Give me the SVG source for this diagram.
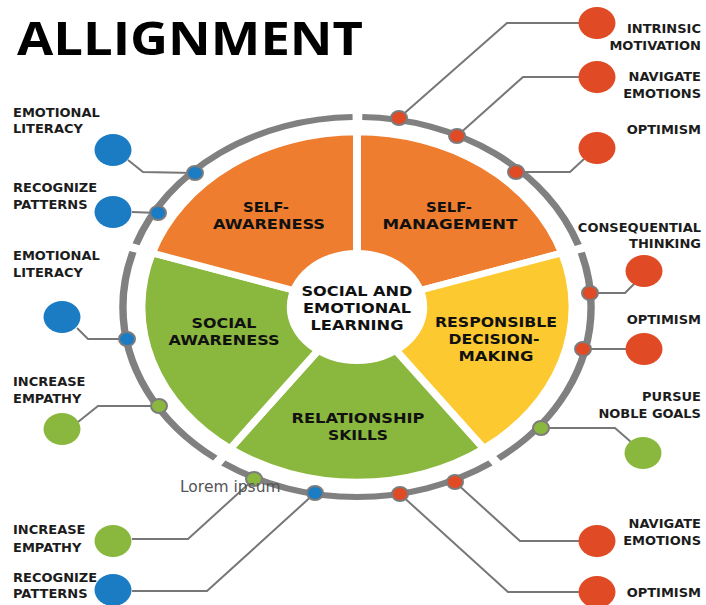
<svg xmlns="http://www.w3.org/2000/svg" width="706" height="605" viewBox="0 0 706 605">
<style>
.lbl{font-family:"DejaVu Sans","Liberation Sans",sans-serif;font-weight:bold;font-size:13px;fill:#1c1c1c}
.r{text-anchor:end}
.pie{font-family:"DejaVu Sans","Liberation Sans",sans-serif;font-weight:bold;font-size:14px;fill:#111;text-anchor:middle}
.con{fill:none;stroke:#777;stroke-width:2;stroke-linejoin:miter}
.sec{stroke:#fff;stroke-width:6.5;stroke-linejoin:miter}
.red{fill:#E04A24}
.grn{fill:#8AB83E}
.blu{fill:#1B7CC4}
.node{stroke:#7c7c7c;stroke-width:2}
</style>
<rect width="706" height="605" fill="#fff"/>
<text x="17" y="55" font-family="'Open Sans','DejaVu Sans',sans-serif" font-weight="bold" font-size="46" textLength="346" lengthAdjust="spacingAndGlyphs" fill="#000">ALLIGNMENT</text>

<g id="wheel" transform="translate(357,307) scale(1.232,1)">
  <circle r="190" fill="none" stroke="#808080" stroke-width="6" stroke-dasharray="230.76 8" stroke-dashoffset="55.69"/>
  <path id="sec-self-management" class="sec" fill="#EE7D30" d="M0 0 L0 -175 A175 175 0 0 1 166.43 -54.08 Z"/>
  <path id="sec-responsible" class="sec" fill="#FCCA30" d="M0 0 L166.43 -54.08 A175 175 0 0 1 102.86 141.58 Z"/>
  <path id="sec-relationship" class="sec" fill="#8AB83E" d="M0 0 L102.86 141.58 A175 175 0 0 1 -102.86 141.58 Z"/>
  <path id="sec-social" class="sec" fill="#8AB83E" d="M0 0 L-102.86 141.58 A175 175 0 0 1 -166.43 -54.08 Z"/>
  <path id="sec-self-awareness" class="sec" fill="#EE7D30" d="M0 0 L-166.43 -54.08 A175 175 0 0 1 0 -175 Z"/>
  <circle r="57" fill="#fff"/>
</g>

<g id="pie-labels">
  <g id="self-awareness"><text class="pie" x="266" y="212" textLength="46" lengthAdjust="spacingAndGlyphs">SELF-</text><text class="pie" x="269" y="229" textLength="112" lengthAdjust="spacingAndGlyphs">AWARENESS</text></g>
  <g id="self-management"><text class="pie" x="449" y="212" textLength="46" lengthAdjust="spacingAndGlyphs">SELF-</text><text class="pie" x="450" y="229" textLength="135" lengthAdjust="spacingAndGlyphs">MANAGEMENT</text></g>
  <g id="center"><text class="pie" x="357" y="296" textLength="111" lengthAdjust="spacingAndGlyphs">SOCIAL AND</text><text class="pie" x="357" y="313" textLength="108" lengthAdjust="spacingAndGlyphs">EMOTIONAL</text><text class="pie" x="357" y="330" textLength="93" lengthAdjust="spacingAndGlyphs">LEARNING</text></g>
  <g id="social-awareness"><text class="pie" x="224" y="328" textLength="65" lengthAdjust="spacingAndGlyphs">SOCIAL</text><text class="pie" x="224" y="345" textLength="111" lengthAdjust="spacingAndGlyphs">AWARENESS</text></g>
  <g id="responsible"><text class="pie" x="496" y="327" textLength="122" lengthAdjust="spacingAndGlyphs">RESPONSIBLE</text><text class="pie" x="494" y="344" textLength="91" lengthAdjust="spacingAndGlyphs">DECISION-</text><text class="pie" x="496" y="361" textLength="75" lengthAdjust="spacingAndGlyphs">MAKING</text></g>
  <g id="relationship"><text class="pie" x="358" y="423" textLength="133" lengthAdjust="spacingAndGlyphs">RELATIONSHIP</text><text class="pie" x="358" y="440" textLength="60" lengthAdjust="spacingAndGlyphs">SKILLS</text></g>
</g>

<g id="connectors">
  <polyline class="con" points="399,118 507,23 579,23"/>
  <polyline class="con" points="457,136 523,77 579,77"/>
  <polyline class="con" points="516,172 570,172 584,159"/>
  <polyline class="con" points="590,293 625,293 634,284"/>
  <polyline class="con" points="583,349 626,349"/>
  <polyline class="con" points="541,428 615,428 631,442"/>
  <polyline class="con" points="455,482 520,541 580,541"/>
  <polyline class="con" points="400,494 508,592 580,592"/>
  <polyline class="con" points="254,479 188,539 132,539"/>
  <polyline class="con" points="315,493 207,591 132,591"/>
  <polyline class="con" points="128,160 143,172 195,173"/>
  <polyline class="con" points="132,212 158,213"/>
  <polyline class="con" points="77,328 88,339 127,339"/>
  <polyline class="con" points="159,406 98,406 78,422"/>
</g>

<g id="ring-nodes">
  <ellipse class="node red" cx="399" cy="118" rx="8" ry="7"/>
  <ellipse class="node red" cx="457" cy="136" rx="8" ry="7"/>
  <ellipse class="node red" cx="516" cy="172" rx="8" ry="7"/>
  <ellipse class="node red" cx="590" cy="293" rx="8" ry="7"/>
  <ellipse class="node red" cx="583" cy="349" rx="8" ry="7"/>
  <ellipse class="node red" cx="455" cy="482" rx="8" ry="7"/>
  <ellipse class="node red" cx="400" cy="494" rx="8" ry="7"/>
  <ellipse class="node grn" cx="541" cy="428" rx="8" ry="7"/>
  <ellipse class="node grn" cx="254" cy="479" rx="8" ry="7"/>
  <ellipse class="node grn" cx="159" cy="406" rx="8" ry="7"/>
  <ellipse class="node blu" cx="315" cy="493" rx="8" ry="7"/>
  <ellipse class="node blu" cx="127" cy="339" rx="8" ry="7"/>
  <ellipse class="node blu" cx="158" cy="213" rx="8" ry="7"/>
  <ellipse class="node blu" cx="195" cy="173" rx="8" ry="7"/>
</g>

<text x="180" y="492" font-family="'DejaVu Sans','Liberation Sans',sans-serif" font-size="15.5" fill="#555">Lorem ipsum</text>

<g id="intrinsic-motivation"><ellipse class="red" cx="597" cy="23" rx="18.5" ry="16"/><text class="lbl r" x="701" y="33">INTRINSIC</text><text class="lbl r" x="701" y="50">MOTIVATION</text></g>
<g id="navigate-emotions-top"><ellipse class="red" cx="597" cy="77" rx="18.5" ry="16"/><text class="lbl r" x="701" y="81">NAVIGATE</text><text class="lbl r" x="701" y="98">EMOTIONS</text></g>
<g id="optimism-top"><ellipse class="red" cx="597" cy="148" rx="18.5" ry="16"/><text class="lbl r" x="701" y="134">OPTIMISM</text></g>
<g id="consequential-thinking"><ellipse class="red" cx="644" cy="271" rx="18.5" ry="16"/><text class="lbl r" x="701" y="232">CONSEQUENTIAL</text><text class="lbl r" x="701" y="248">THINKING</text></g>
<g id="optimism-mid"><ellipse class="red" cx="644" cy="349" rx="18.5" ry="16"/><text class="lbl r" x="701" y="324">OPTIMISM</text></g>
<g id="pursue-noble-goals"><ellipse class="grn" cx="643" cy="453" rx="18.5" ry="16"/><text class="lbl r" x="701" y="401">PURSUE</text><text class="lbl r" x="701" y="418">NOBLE GOALS</text></g>
<g id="navigate-emotions-bottom"><ellipse class="red" cx="597" cy="541" rx="18.5" ry="16"/><text class="lbl r" x="701" y="528">NAVIGATE</text><text class="lbl r" x="701" y="545">EMOTIONS</text></g>
<g id="optimism-bottom"><ellipse class="red" cx="597" cy="592" rx="18.5" ry="16"/><text class="lbl r" x="701" y="597">OPTIMISM</text></g>

<g id="emotional-literacy-top"><ellipse class="blu" cx="113" cy="150" rx="18.5" ry="16"/><text class="lbl" x="13" y="117">EMOTIONAL</text><text class="lbl" x="13" y="133">LITERACY</text></g>
<g id="recognize-patterns-top"><ellipse class="blu" cx="113" cy="212" rx="18.5" ry="16"/><text class="lbl" x="13" y="192">RECOGNIZE</text><text class="lbl" x="13" y="209">PATTERNS</text></g>
<g id="emotional-literacy-mid"><ellipse class="blu" cx="62" cy="317" rx="18.5" ry="16"/><text class="lbl" x="13" y="260">EMOTIONAL</text><text class="lbl" x="13" y="277">LITERACY</text></g>
<g id="increase-empathy-mid"><ellipse class="grn" cx="62" cy="429" rx="18.5" ry="16"/><text class="lbl" x="13" y="386">INCREASE</text><text class="lbl" x="13" y="403">EMPATHY</text></g>
<g id="increase-empathy-bottom"><ellipse class="grn" cx="113" cy="541" rx="18.5" ry="16"/><text class="lbl" x="13" y="534">INCREASE</text><text class="lbl" x="13" y="552">EMPATHY</text></g>
<g id="recognize-patterns-bottom"><ellipse class="blu" cx="113" cy="590" rx="18.5" ry="16"/><text class="lbl" x="13" y="582">RECOGNIZE</text><text class="lbl" x="13" y="598">PATTERNS</text></g>
</svg>
